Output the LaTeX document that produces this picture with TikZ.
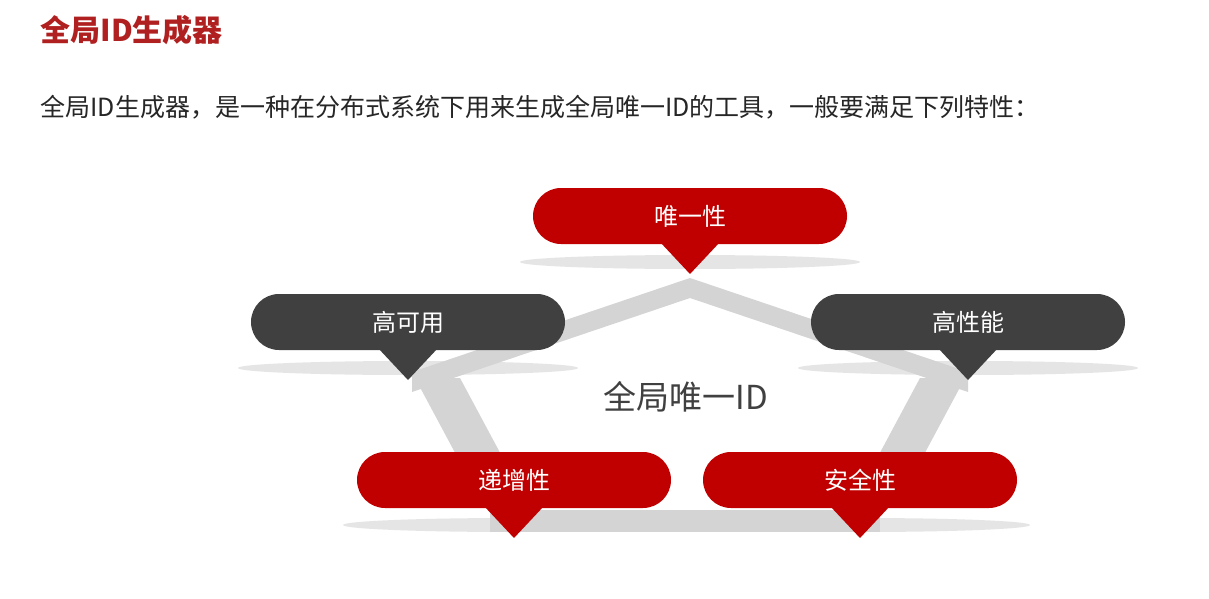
\documentclass[tikz,border=0pt]{standalone}
\usepackage{fontspec}
\setmainfont{Noto Sans CJK SC}
\definecolor{myred}{HTML}{C00000}
\definecolor{titlered}{HTML}{B02020}
\definecolor{mydark}{HTML}{404040}
\definecolor{band}{HTML}{D4D4D4}
\begin{document}
\begin{tikzpicture}[x=1pt,y=-1pt,
  lbl/.style={text=white, font=\fontsize{24}{24}\selectfont}]
\useasboundingbox (0,0) rectangle (1209,599);
\fill[white] (0,0) rectangle (1209,599);
\node[anchor=west, text=titlered, font=\fontsize{30}{30}\selectfont\bfseries] (title) at (37,30) {全局ID生成器};
\node[anchor=west, font=\fontsize{25}{25}\selectfont, text=black!85] (sub) at (37,107) {全局ID生成器，是一种在分布式系统下用来生成全局唯一ID的工具，一般要满足下列特性：};
% shadows
\foreach \cx/\cy in {690/262,408/368,968/368,513/525,860/525}
  \fill[black!10] (\cx,\cy) ellipse (170 and 7);
% band
\fill[band] (690,278) -- (968,372) -- (968,392) -- (690,298) -- (412,392) -- (412,372) -- cycle;
\fill[band] (415,378) -- (460,378) -- (520,490) -- (475,490) -- cycle;
\fill[band] (965,378) -- (920,378) -- (860,490) -- (905,490) -- cycle;
\fill[band] (490,510) -- (880,510) -- (880,532) -- (490,532) -- cycle;
% pills
\newcommand{\pillnode}[5]{%
  \fill[#4] (#1-157,#2-28) [rounded corners=28pt] rectangle (#1+157,#2+28);
  \fill[#4] (#1-30,#2+26) -- (#1+30,#2+26) -- (#1,#2+58) -- cycle;
  \node[lbl] (#5) at (#1,#2) {#3};}
\pillnode{690}{216}{唯一性}{myred}{p1}
\pillnode{408}{322}{高可用}{mydark}{p2}
\pillnode{968}{322}{高性能}{mydark}{p3}
\pillnode{514}{480}{递增性}{myred}{p4}
\pillnode{860}{480}{安全性}{myred}{p5}
\node[font=\fontsize{33}{33}\selectfont, text=black!75] (c) at (686,397) {全局唯一ID};
\end{tikzpicture}
\end{document}
